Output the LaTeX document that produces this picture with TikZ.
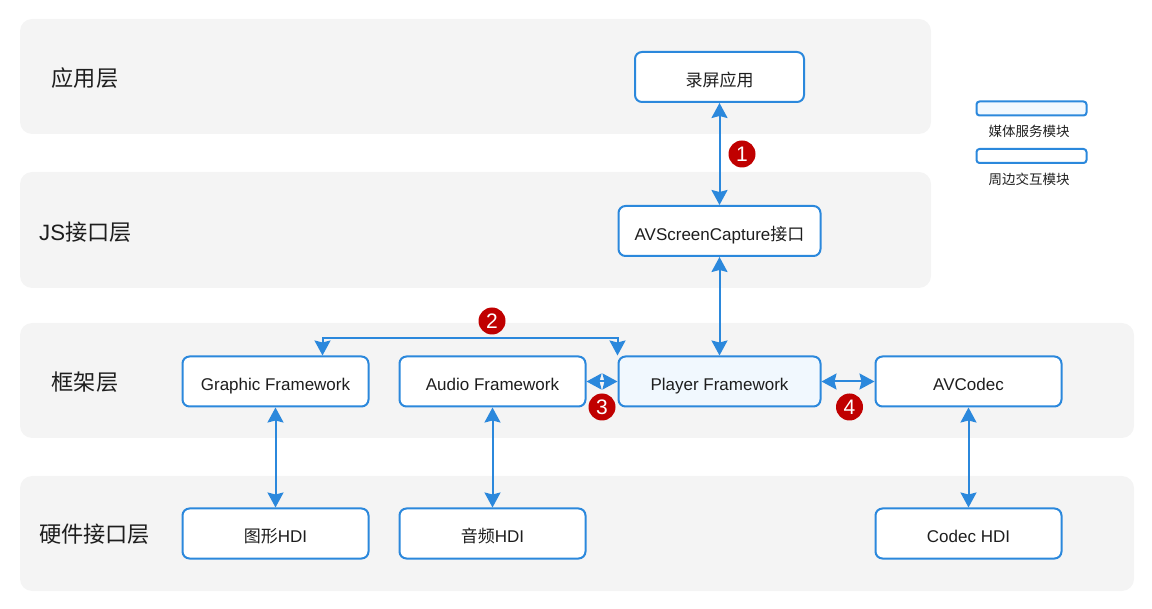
\documentclass[tikz,border=0pt]{standalone}
\usepackage{fontspec}
\setmainfont{Liberation Sans}
\newfontfamily\cjk{Noto Sans CJK SC}
\usetikzlibrary{arrows.meta,calc}
\definecolor{linkblue}{HTML}{2B88DC}
\definecolor{layergrey}{HTML}{F4F4F4}
\definecolor{paleblue}{HTML}{F1F8FE}
\definecolor{inkdark}{HTML}{1E1E1E}
\definecolor{badgered}{HTML}{C00000}
\tikzset{
  x=1pt,y=-1pt,
  layerbox/.style={draw=none,fill=layergrey,rounded corners=12pt,inner sep=0pt},
  layertext/.style={text=inkdark,font=\fontsize{22.2}{26}\selectfont,inner sep=0pt},
  modbox/.style={draw=linkblue,line width=2pt,fill=white,rounded corners=7pt,inner sep=0pt,
    text=inkdark,font=\fontsize{17}{20}\selectfont,text height=22pt,text depth=3pt,
    minimum width=186pt,minimum height=50pt},
  wide/.style={minimum width=202pt},
  narrow/.style={minimum width=169pt},
  pale/.style={fill=paleblue},
  legbox/.style={draw=linkblue,line width=2pt,rounded corners=3pt,inner sep=0pt,minimum width=110pt,minimum height=14pt},
  legtext/.style={text=inkdark,font=\fontsize{13.5}{16}\selectfont,inner sep=0pt},
  link/.style={draw=linkblue,line width=2pt,{Stealth[length=15pt,width=16pt,inset=2pt]}-{Stealth[length=15pt,width=16pt,inset=2pt]}},
  badge/.style={circle,fill=badgered,text=white,inner sep=0pt,minimum size=27pt,font=\fontsize{21}{24}\selectfont},
}
\begin{document}
\begin{tikzpicture}
\useasboundingbox (0,0) rectangle (1152,609);
% layers
\node[layerbox,minimum width=911pt,minimum height=115pt] (lay1) at (475.5,76.5) {};
\node[layerbox,minimum width=911pt,minimum height=116pt] (lay2) at (475.5,230) {};
\node[layerbox,minimum width=1114pt,minimum height=115pt] (lay3) at (577,380.5) {};
\node[layerbox,minimum width=1114pt,minimum height=115pt] (lay4) at (577,533.5) {};
\node[layertext] (t1) at (85,78) {\cjk 应用层};
\node[layertext] (t2) at (85.5,232) {JS\cjk 接口层};
\node[layertext] (t3) at (85,382) {\cjk 框架层};
\node[layertext] (t4) at (94.5,534) {\cjk 硬件接口层};
% modules
\node[modbox,narrow] (app) at (719.5,77) {\cjk 录屏应用};
\node[modbox,wide] (api) at (719.5,231) {AVScreenCapture\cjk 接口};
\node[modbox] (gfx) at (275.5,381.5) {Graphic Framework};
\node[modbox] (aud) at (492.5,381.5) {Audio Framework};
\node[modbox,wide,pale] (ply) at (719.5,381.5) {Player Framework};
\node[modbox] (avc) at (968.5,381.5) {AVCodec};
\node[modbox] (ghdi) at (275.5,533.5) {\cjk 图形\normalfont HDI};
\node[modbox] (ahdi) at (492.5,533.5) {\cjk 音频\normalfont HDI};
\node[modbox] (chdi) at (968.5,533.5) {Codec HDI};
% legend
\node[legbox,pale] (leg1) at (1031.5,108.5) {};
\node[legbox,fill=white] (leg2) at (1031.5,156) {};
\node[legtext] (leg1t) at (1029,131) {\cjk 媒体服务模块};
\node[legtext] (leg2t) at (1029,179) {\cjk 周边交互模块};
% connectors
\draw[link] (app.south) -- (api.north);
\draw[link] (api.south) -- (ply.north);
\coordinate (gtop) at ($(gfx.north)+(47,0)$);
\draw[link] (gtop) -- ++(0,-17) -| (ply.north west);
\draw[link] (aud.east) -- (ply.west);
\draw[link] (ply.east) -- (avc.west);
\draw[link] (gfx.south) -- (ghdi.north);
\draw[link] (aud.south) -- (ahdi.north);
\draw[link] (avc.south) -- (chdi.north);
% badges
\node[badge] (b1) at (742,154) {1};
\node[badge] (b2) at (492,321) {2};
\node[badge] (b3) at (602,407) {3};
\node[badge] (b4) at (849.5,407) {4};
\end{tikzpicture}
\end{document}
